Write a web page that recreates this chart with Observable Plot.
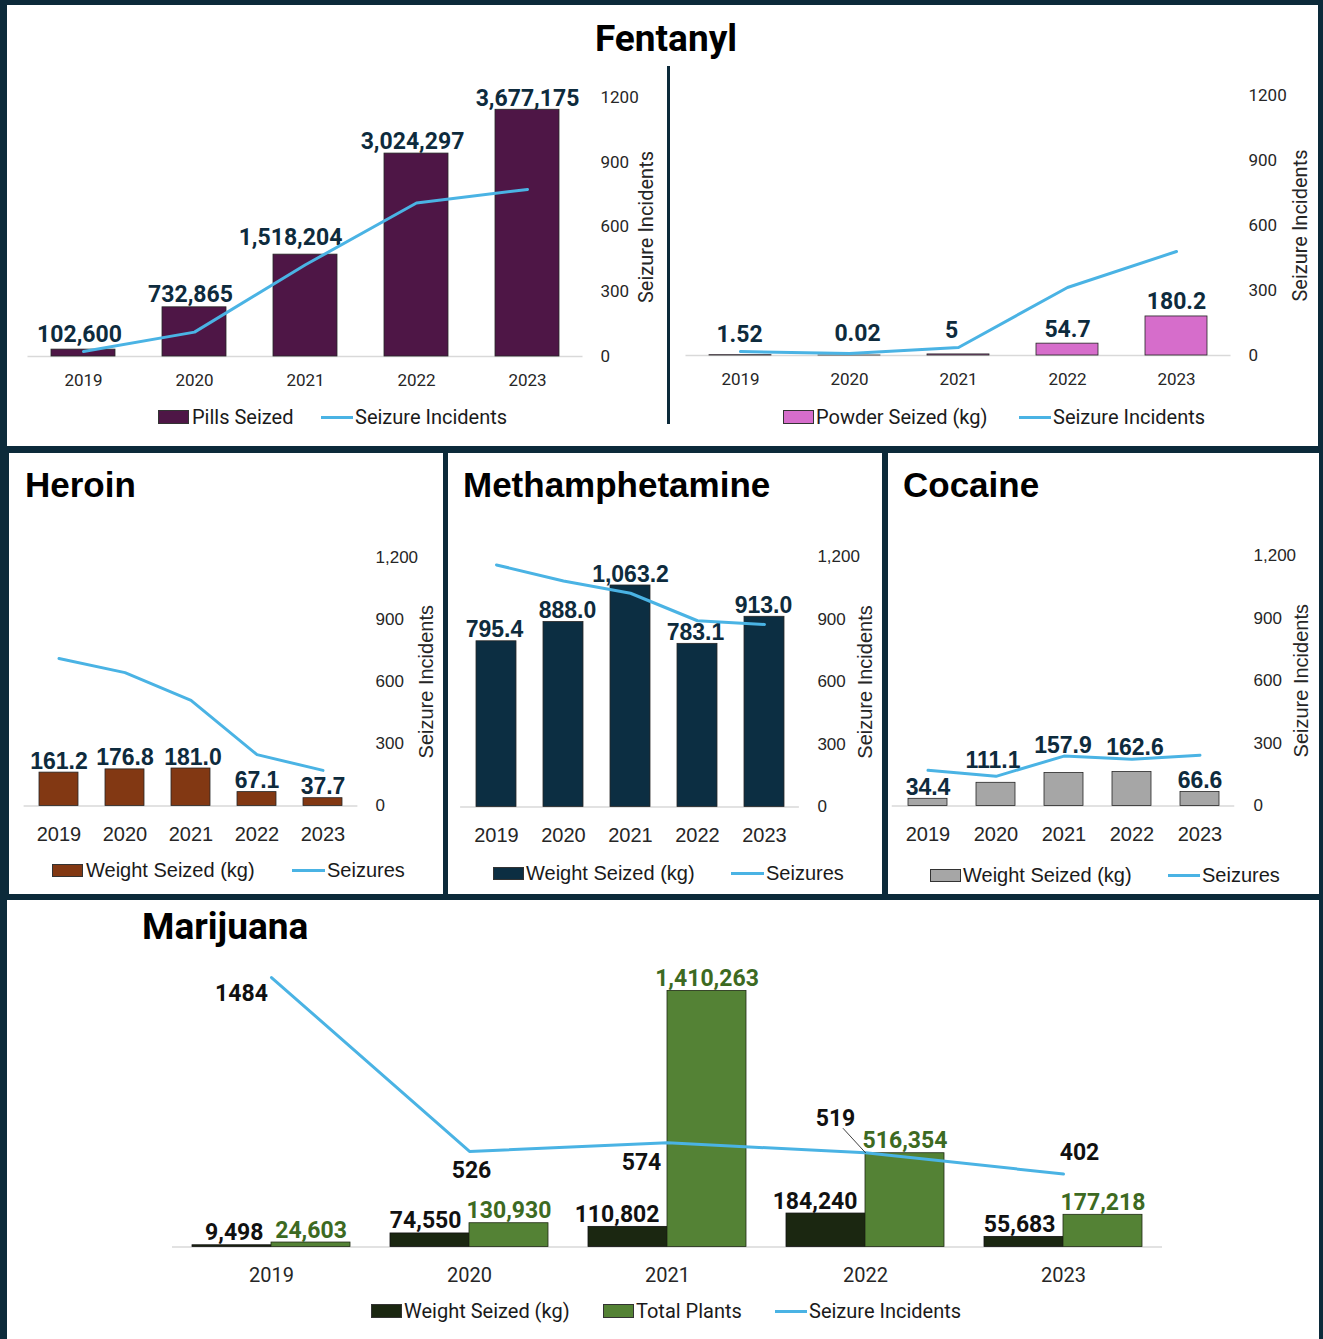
<!DOCTYPE html>
<html><head><meta charset="utf-8">
<script src="https://cdn.jsdelivr.net/npm/d3@7"></script>
<script src="https://cdn.jsdelivr.net/npm/@observablehq/plot@0.6"></script>
<style>
body{margin:0;background:#fff;}
#page{position:relative;width:1323px;height:1339px;background:#0c2a3a;overflow:hidden;}
.pane{position:absolute;background:#fff;}
.t{position:absolute;white-space:nowrap;}
</style></head><body><div id="page"></div>
<script>
// ---------- data ----------
const years = ["2019", "2020", "2021", "2022", "2023"];
const incidentTicks = [0, 300, 600, 900, 1200];
const fentPills = [102600, 732865, 1518204, 3024297, 3677175];
const fentPillsIncidents = [23, 113, 425, 711, 774];
const fentPowder = [1.52, 0.02, 5, 54.7, 180.2];
const fentPowderIncidents = [18, 9, 37, 314, 480];
const heroinWeight = [161.2, 176.8, 181.0, 67.1, 37.7];
const heroinSeizures = [712, 644, 510, 248, 172];
const methWeight = [795.4, 888.0, 1063.2, 783.1, 913.0];
const methSeizures = [1162, 1085, 1026, 894, 876];
const cocaineWeight = [34.4, 111.1, 157.9, 162.6, 66.6];
const cocaineSeizures = [171, 142, 239, 224, 243];
const mjWeight = [9498, 74550, 110802, 184240, 55683];
const mjPlants = [24603, 130930, 1410263, 516354, 177218];
const mjIncidents = [1484, 526, 574, 519, 402];

// ---------- style ----------
const BLUE = "#4ab3e4";
const INK = "#262626";
const LABEL = "#0e2b3d";
const ROBOTO = "Roboto, 'Liberation Sans', sans-serif";
const LIB = "'Liberation Sans', Arial, sans-serif";
const fmtInt = d3.format(",");
const fmt1 = d3.format(",.1f");

const page = document.getElementById("page");
function pane(l, t, w, h, bg = "#fff") {
  const d = document.createElement("div");
  d.className = "pane";
  Object.assign(d.style, {left: l + "px", top: t + "px", width: w + "px", height: h + "px", background: bg});
  page.appendChild(d);
}
function text(str, {x, yc, font, size, weight = 400, color = "#1a1a1a", center = false}) {
  const d = document.createElement("div");
  d.className = "t";
  d.textContent = str;
  Object.assign(d.style, {left: x + "px", top: (yc - size * 0.49) + "px", fontFamily: font, fontSize: size + "px",
    fontWeight: weight, color, lineHeight: size + "px"});
  if (center) d.style.transform = "translateX(-50%)";
  page.appendChild(d);
}
function swatch(x, yc, w, h, color) {
  const d = document.createElement("div");
  Object.assign(d.style, {position: "absolute", left: x + "px", top: (yc - h / 2) + "px", width: (w - 2) + "px",
    height: (h - 2) + "px", background: color, border: "1px solid #333"});
  page.appendChild(d);
}
function lineSwatch(x, yc, w, color) {
  const d = document.createElement("div");
  Object.assign(d.style, {position: "absolute", left: x + "px", top: (yc - 1.5) + "px", width: w + "px",
    height: "3px", background: color});
  page.appendChild(d);
}

// frame
pane(7, 5, 1311, 441);
pane(9, 453, 434, 441);
pane(448, 453, 434, 441);
pane(888, 453, 431, 441);
pane(7, 900, 1312, 445);
pane(666.5, 66, 3, 358, "#0c2a3a");

let customShapeOK = true;
try { Plot.vector([], {shape: {draw() {}}}); } catch (e) { customShapeOK = false; }

function chart(c) {
  const [L, T, W, H] = c.box;
  const m = {marginLeft: c.x0 - L, marginRight: L + W - c.x1, marginTop: c.yTop - T, marginBottom: T + H - c.yBase};
  const step = (c.x1 - c.x0) / years.length;
  const bw = step * (1 - c.pad);
  const xs = {type: "band", domain: years, paddingInner: c.pad, paddingOuter: c.pad / 2, align: 0.5, label: null};
  const st = {fontFamily: c.font, background: "transparent", overflow: "visible", color: INK};
  const A = Plot.plot({
    width: W, height: H, ...m, style: st,
    x: xs, y: {domain: [0, c.barMax], axis: null, label: null},
    marks: [
      Plot.ruleY([0], {stroke: "#d9d9d9", strokeWidth: 1.5}),
      ...c.bars(bw),
      Plot.axisX({tickSize: 0, tickPadding: c.xPad, fontSize: c.xSize, fill: INK, label: null, fontFamily: c.font})
    ]
  });
  const B = Plot.plot({
    width: W, height: H, ...m, style: st,
    x: {...xs, axis: null}, y: {domain: [0, c.lineMax], label: null, axis: c.rightAxis ? undefined : null},
    marks: [
      Plot.line(c.lineData, {x: "year", y: "inc", stroke: BLUE, strokeWidth: 3}),
      ...(c.rightAxis ? [
        Plot.axisY(incidentTicks, {anchor: "right", tickSize: 0, tickPadding: c.yPad, tickFormat: c.yFmt,
          fontSize: c.ySize, fill: INK, label: null, fontFamily: c.font}),
        Plot.text(["Seizure Incidents"], {text: d => d, frameAnchor: "right", rotate: -90, dx: c.rotDx,
          textAnchor: "middle", lineAnchor: "middle", fontSize: c.rotSize, fill: INK, fontFamily: c.font})
      ] : []),
      ...(c.extra ? c.extra(bw) : [])
    ]
  });
  const wrap = document.createElement("div");
  Object.assign(wrap.style, {position: "absolute", left: L + "px", top: T + "px", width: W + "px", height: H + "px"});
  for (const s of [A, B]) {
    Object.assign(s.style, {position: "absolute", left: "0px", top: "0px", maxWidth: "none"});
    wrap.appendChild(s);
  }
  page.appendChild(wrap);
}

function simpleBars(values, color, fmt, font, size, dxs, dys) {
  const data = years.map((year, i) => ({year, value: values[i]}));
  return () => [
    Plot.barY(data, {x: "year", y: "value", fill: color, stroke: "#262626", strokeWidth: 0.8}),
    ...data.map((d, i) => Plot.text([d], {x: "year", y: "value", text: e => fmt(e.value), lineAnchor: "bottom",
      dx: dxs[i], dy: dys[i], fill: LABEL, fontSize: size, fontWeight: "bold", fontFamily: font}))
  ];
}
const lineRows = inc => years.map((year, i) => ({year, inc: inc[i]}));

// ---------- Fentanyl ----------
text("Fentanyl", {x: 666, yc: 38, font: ROBOTO, size: 37, weight: 700, color: "#000", center: true});
chart({
  box: [10, 55, 650, 345], x0: 27.5, x1: 582.5, yTop: 97, yBase: 356, pad: 0.4234, font: ROBOTO,
  barMax: 3.86e6, lineMax: 1200, lineData: lineRows(fentPillsIncidents),
  bars: simpleBars(fentPills, "#4e1646", fmtInt, ROBOTO, 23, [-4, -4, -15, -4, 0], [-8, -5, -10, -5, -4]),
  xPad: 17, xSize: 17, rightAxis: true, yPad: 17.5, ySize: 17, yFmt: d => String(d), rotDx: 63.5, rotSize: 20
});
swatch(158, 417, 31, 14, "#4e1646");
text("Pills Seized", {x: 192, yc: 417, font: ROBOTO, size: 20});
lineSwatch(321, 417, 32, BLUE);
text("Seizure Incidents", {x: 355, yc: 417, font: ROBOTO, size: 20});

chart({
  box: [675, 55, 640, 345], x0: 685.5, x1: 1230.5, yTop: 95, yBase: 355, pad: 0.431, font: ROBOTO,
  barMax: 1200, lineMax: 1200, lineData: lineRows(fentPowderIncidents),
  bars: simpleBars(fentPowder, "#d66dcb", d => String(d), ROBOTO, 23, [-1, 8, -7, 0, 0], [-13, -14, -16, -7, -7]),
  xPad: 17, xSize: 17, rightAxis: true, yPad: 17.5, ySize: 17, yFmt: d => String(d), rotDx: 69.5, rotSize: 20
});
swatch(783, 417, 31, 14, "#d66dcb");
text("Powder Seized (kg)", {x: 816, yc: 417, font: ROBOTO, size: 20});
lineSwatch(1019, 417, 32, BLUE);
text("Seizure Incidents", {x: 1053, yc: 417, font: ROBOTO, size: 20});

// ---------- Heroin ----------
text("Heroin", {x: 25, yc: 484.5, font: LIB, size: 35, weight: 700, color: "#000"});
chart({
  box: [12, 520, 420, 330], x0: 23.6, x1: 357.4, yTop: 557, yBase: 805.5, pad: 0.416, font: LIB,
  barMax: 1200, lineMax: 1200, lineData: lineRows(heroinSeizures),
  bars: simpleBars(heroinWeight, "#823813", fmt1, LIB, 23, [0, 0, 2, 0, 0], [-4, -4, -4, -4, -4]),
  xPad: 20.5, xSize: 20, rightAxis: true, yPad: 17.6, ySize: 17, yFmt: fmtInt, rotDx: 68.6, rotSize: 20
});
swatch(52, 870, 31, 13, "#823813");
text("Weight Seized (kg)", {x: 86, yc: 870, font: LIB, size: 20});
lineSwatch(292, 870, 33, BLUE);
text("Seizures", {x: 327, yc: 870, font: LIB, size: 20});

// ---------- Methamphetamine ----------
text("Methamphetamine", {x: 463, yc: 484.5, font: LIB, size: 35, weight: 700, color: "#000"});
chart({
  box: [452, 520, 426, 330], x0: 460.1, x1: 798.9, yTop: 556.5, yBase: 806.5, pad: 0.41, font: LIB,
  barMax: 1200, lineMax: 1200, lineData: lineRows(methSeizures),
  bars: simpleBars(methWeight, "#0c2e42", fmt1, LIB, 23, [-2, 4, 0, -2, -1], [-4, -4, -4, -4, -4]),
  xPad: 20.5, xSize: 20, rightAxis: true, yPad: 18, ySize: 17, yFmt: fmtInt, rotDx: 66, rotSize: 20
});
swatch(493, 873, 31, 13, "#0c2e42");
text("Weight Seized (kg)", {x: 526, yc: 873, font: LIB, size: 20});
lineSwatch(731, 873, 33, BLUE);
text("Seizures", {x: 766, yc: 873, font: LIB, size: 20});

// ---------- Cocaine ----------
text("Cocaine", {x: 903, yc: 484.5, font: LIB, size: 35, weight: 700, color: "#000"});
chart({
  box: [890, 520, 425, 330], x0: 891.75, x1: 1234.25, yTop: 555, yBase: 805.5, pad: 0.43, font: LIB,
  barMax: 1200, lineMax: 1200, lineData: lineRows(cocaineSeizures),
  bars: simpleBars(cocaineWeight, "#a6a6a6", fmt1, LIB, 23, [0, -3, -1, 3, 0], [-4.1, -15.1, -20.3, -17.3, -4.4]),
  xPad: 20.5, xSize: 20, rightAxis: true, yPad: 18.75, ySize: 17, yFmt: fmtInt, rotDx: 66.75, rotSize: 20
});
swatch(930, 875, 31, 13, "#a6a6a6");
text("Weight Seized (kg)", {x: 963, yc: 875, font: LIB, size: 20});
lineSwatch(1168, 875, 32, BLUE);
text("Seizures", {x: 1202, yc: 875, font: LIB, size: 20});

// ---------- Marijuana ----------
text("Marijuana", {x: 142, yc: 926, font: ROBOTO, size: 37, weight: 700, color: "#000"});
const mjW = years.map((year, i) => ({year, value: mjWeight[i]}));
const mjP = years.map((year, i) => ({year, value: mjPlants[i]}));
const mjL = lineRows(mjIncidents);
const mjLabelDx = [-30, 2, -26, -30, 16];
const mjLabelDy = [16, 19, 20, -34, -21];
chart({
  box: [20, 930, 1280, 360], x0: 172, x1: 1162, yTop: 974.1, yBase: 1246.5, pad: 0.202, font: ROBOTO,
  barMax: 1.5e6, lineMax: 1500, lineData: mjL,
  bars: bw => [
    Plot.barY(mjW, {x: "year", y: "value", fill: "#1b2711", stroke: "#111", strokeWidth: 0.8, insetRight: bw / 2}),
    Plot.barY(mjP, {x: "year", y: "value", fill: "#548235", stroke: "#1f2a14", strokeWidth: 0.8, insetLeft: bw / 2}),
    Plot.text(mjW, {x: "year", y: "value", text: d => fmtInt(d.value), lineAnchor: "bottom", textAnchor: "end", dx: -8, dy: -5,
      fill: "#111", fontSize: 23, fontWeight: "bold", fontFamily: ROBOTO}),
    Plot.text(mjP, {x: "year", y: "value", text: d => fmtInt(d.value), lineAnchor: "bottom", dx: bw / 4, dy: -5,
      fill: "#3d6a22", fontSize: 23, fontWeight: "bold", fontFamily: ROBOTO})
  ],
  xPad: 20.4, xSize: 20, rightAxis: false,
  extra: () => [
    ...mjL.map((d, i) => Plot.text([d], {x: "year", y: "inc", text: e => String(e.inc), dx: mjLabelDx[i], dy: mjLabelDy[i],
      lineAnchor: "middle", fill: "#111", fontSize: 23, fontWeight: "bold", fontFamily: ROBOTO})),
    ...(customShapeOK ? [Plot.vector([mjL[3]], {x: "year", y: "inc", length: 33, rotate: -42.6, anchor: "start",
      shape: {draw(ctx, l) { ctx.moveTo(0, 0); ctx.lineTo(0, -l); }}, stroke: "#222", strokeWidth: 0.8})] : [])
  ]
});
swatch(371, 1311, 31, 14, "#1b2711");
text("Weight Seized (kg)", {x: 404, yc: 1311, font: ROBOTO, size: 20});
swatch(603, 1311, 31, 14, "#548235");
text("Total Plants", {x: 636, yc: 1311, font: ROBOTO, size: 20});
lineSwatch(775, 1311, 32, BLUE);
text("Seizure Incidents", {x: 809, yc: 1311, font: ROBOTO, size: 20});
</script></body></html>
